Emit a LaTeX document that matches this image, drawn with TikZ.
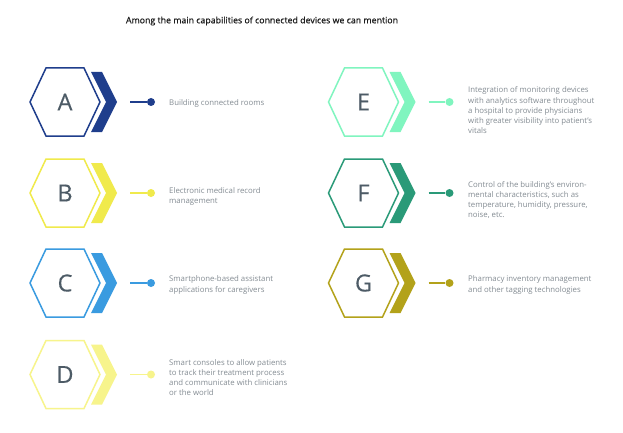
\documentclass[tikz,border=0pt]{standalone}
\usepackage{fontspec}
\setmainfont{Open Sans}
\newfontfamily\titlefont[FakeBold=0.6]{Open Sans}
\newfontfamily\letterfont[FakeBold=0.3]{Open Sans}
\definecolor{cA}{HTML}{1F3E8C}
\definecolor{cB}{HTML}{F0EA4C}
\definecolor{cC}{HTML}{3A9BE0}
\definecolor{cD}{HTML}{F7F48C}
\definecolor{cE}{HTML}{80F5BF}
\definecolor{cF}{HTML}{2A9A78}
\definecolor{cG}{HTML}{B3A21A}
\definecolor{lettergray}{HTML}{4D5B66}
\definecolor{textgray}{HTML}{848C93}
\definecolor{titlecol}{HTML}{1E1E1E}
\newcommand\capitem[5]{%
  \begin{scope}[shift={(#2,#3)}]
    \node[letterbox] (#1) at (0,0) {#5};
    \draw[hexline, draw=#4] (-35,0) -- (-19,-34) -- (19,-34) -- (35,0) -- (19,34) -- (-19,34) -- cycle;
    \fill[#4] (26,-30) -- (37,-30) -- (52,0) -- (37,30) -- (26,30) -- (41,0) -- cycle;
    \coordinate (#1s) at (65,0);
    \node[dotnode, fill=#4] (#1d) at (86,0) {};
    \draw[conn, draw=#4] (#1s) -- (#1d);
  \end{scope}}
\begin{document}
\begin{tikzpicture}[x=1pt,y=-1pt,
  letterbox/.style={text=lettergray, font=\letterfont\fontsize{23.5}{23.5}\selectfont, inner sep=0pt},
  hexline/.style={line width=1.5pt, line join=miter},
  dotnode/.style={circle, minimum size=8pt, inner sep=0pt, draw=none},
  conn/.style={line width=1.5pt},
  desc/.style={anchor=west, text=textgray, align=left, inner sep=0pt, font=\fontsize{7.8}{10.2}\selectfont},
  titlestyle/.style={text=titlecol, inner sep=0pt, font=\titlefont\fontsize{8.8}{10}\selectfont}]
\useasboundingbox[fill=white] (0,0) rectangle (623,433);
\node[titlestyle] (title) at (262,21) {Among the main capabilities of connected devices we can mention};
\capitem{A}{65}{102}{cA}{A}
\capitem{B}{65}{193}{cB}{B}
\capitem{C}{65}{283}{cC}{C}
\capitem{D}{65}{374.5}{cD}{D}
\capitem{E}{363.5}{102}{cE}{E}
\capitem{F}{363.5}{193}{cF}{F}
\capitem{G}{363.5}{283}{cG}{G}
\node[desc] (tA) at (169,103) {Building connected rooms};
\node[desc] (tB) at (169,196.7) {Electronic medical record\\management};
\node[desc] (tC) at (169,285) {Smartphone-based assistant\\applications for caregivers};
\node[desc] (tD) at (169,377.5) {Smart consoles to allow patients\\to track their treatment process\\and communicate with clinicians\\or the world};
\node[desc] (tE) at (468,110.4) {Integration of monitoring devices\\with analytics software throughout\\a hospital to provide physicians\\with greater visibility into patient's\\vitals};
\node[desc] (tF) at (468,200) {Control of the building's environ-\\mental characteristics, such as\\temperature, humidity, pressure,\\noise, etc.};
\node[desc] (tG) at (468,285) {Pharmacy inventory management\\and other tagging technologies};
\end{tikzpicture}
\end{document}
